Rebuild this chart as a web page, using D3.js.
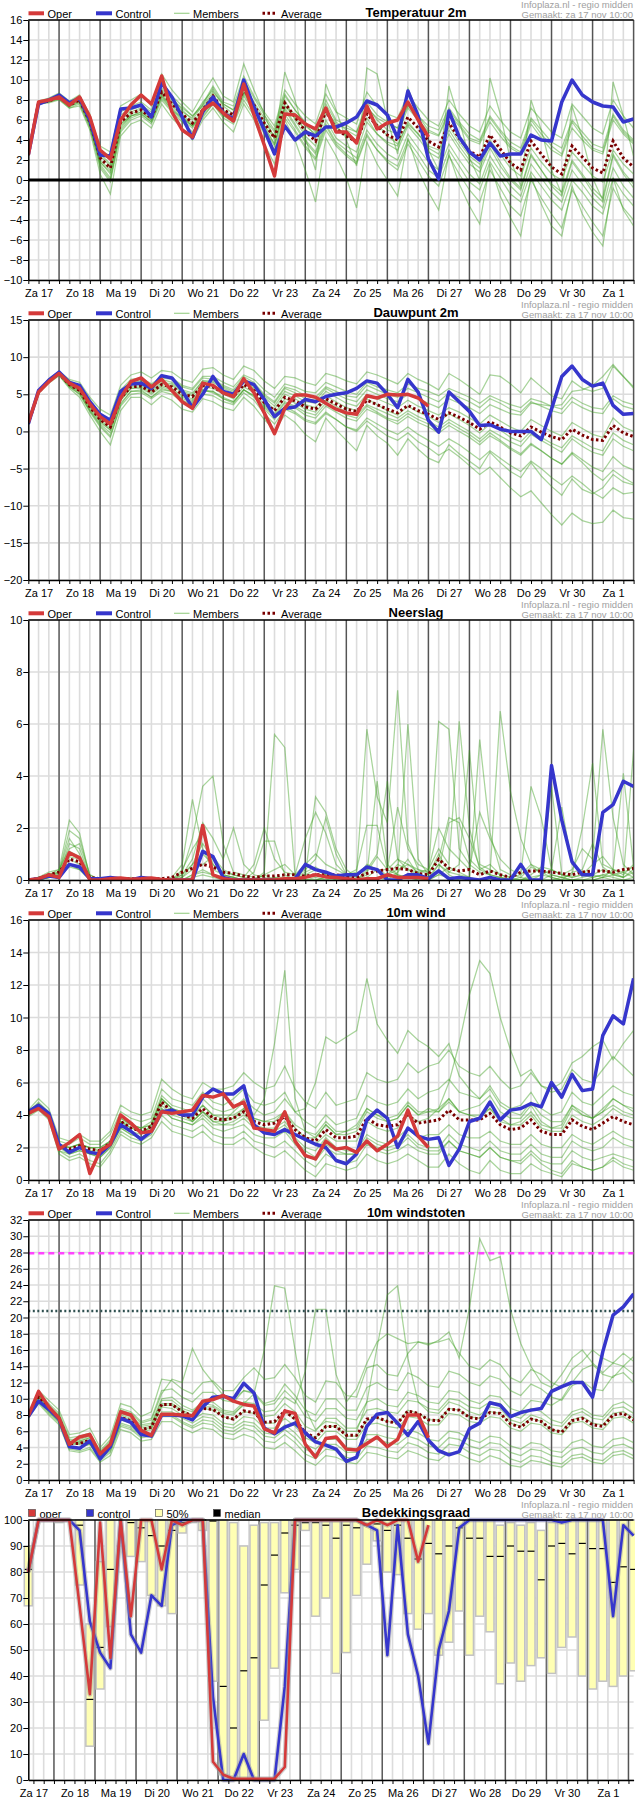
<!DOCTYPE html>
<html>
<head>
<meta charset="utf-8">
<script src="https://cdn.jsdelivr.net/npm/d3@7"></script>
<style>
    body { margin: 0; background: #fff; }
    svg text { font-family: "Liberation Sans", Arial, sans-serif; }
    .credit { font-size: 9.5px; fill: #a0a0a0; text-anchor: end; }
    .title { font-size: 13px; font-weight: bold; text-anchor: middle; fill: #000; }
    .legend-label { font-size: 11px; fill: #000; }
    .axis text { font-size: 11px; fill: #000; }
    .axis path, .axis line { stroke: #000; }
</style>
</head>
<body>
<svg id="chart" width="635" height="1800"></svg>
<script>
const steps = 60;
const dayNames = ["Za 17", "Zo 18", "Ma 19", "Di 20", "Wo 21", "Do 22", "Vr 23", "Za 24", "Zo 25", "Ma 26", "Di 27", "Wo 28", "Do 29", "Vr 30", "Za 1"];

// ---- Temperatuur 2m
const tempOper = [2.5,7.8,8.0,8.3,7.5,8.3,6.3,3.0,2.1,6.0, 7.5,8.5,7.6,10.4,6.8,5.0,4.3,7.0,7.7,6.7, 5.9,9.6,6.5,3.5,0.4,6.6,6.5,5.6,5.1,7.2, 4.8,4.8,3.7,7.4,5.1,5.7,6.0,7.8,6.0,4.3];
const tempCtrl = [2.5,7.6,8.0,8.5,7.7,8.2,6.0,2.5,2.4,7.1, 7.2,7.5,6.3,9.7,8.3,6.3,4.2,6.8,8.3,6.7, 6.1,10.0,7.3,5.0,2.6,5.4,4.0,4.8,4.4,5.3, 5.3,5.7,6.3,7.9,7.5,6.5,4.2,8.9,6.4,2.1, 0.1,6.9,4.3,2.8,2.0,3.7,2.4,2.6,2.6,4.5, 4.0,3.9,7.8,10.0,8.5,7.8,7.4,7.3,5.8,6.1];
const tempAvg = [2.5,7.7,7.9,8.3,7.5,8.0,5.8,2.2,1.2,5.8, 6.7,7.0,6.2,8.8,7.6,6.6,5.7,7.0,8.4,7.0, 6.5,9.1,7.5,5.7,4.2,7.7,6.3,4.9,3.9,6.9, 5.1,4.4,3.8,6.6,5.4,4.5,4.0,6.3,5.2,3.9, 3.3,5.7,4.2,2.9,2.3,4.5,3.1,1.7,1.0,3.9, 2.6,1.3,0.6,3.4,2.3,1.2,0.7,3.9,2.2,1.3];
const tempMembers = [
    [2.5,7.8,8.1,8.6,7.7,8.3,6.2,2.8,2.0,6.5, 7.2,7.5,6.8,9.6,8.2,7.0,6.0,7.5,9.2,7.6, 7.0,10.0,8.2,6.5,5.0,8.6,7.0,5.8,4.8,8.0, 6.0,5.5,4.8,7.8,6.5,5.8,5.2,7.5,6.4,5.0, 4.5,7.0,5.6,4.2,3.8,6.2,4.8,3.4,2.8,6.0, 4.6,3.4,2.6,5.8,4.4,3.2,2.8,6.4,4.8,3.8],
    [2.4,7.6,7.7,8.0,7.2,7.6,5.2,1.2,-0.2,4.8, 6.0,6.4,5.6,8.0,6.8,5.8,4.8,6.2,7.6,6.2, 5.6,8.0,6.4,4.6,2.8,6.2,4.8,3.2,2.0,5.0, 3.4,2.4,1.6,4.4,3.0,2.0,1.4,4.0,2.6,1.0, 0.2,3.0,1.4,-0.2,-1.0,1.8,0.2,-1.4,-2.2,0.8, -0.6,-2.0,-3.0,0.0,-1.2,-2.6,-3.4,0.2,-1.4,-2.6],
    [2.5,7.7,8.0,8.4,7.4,8.2,6.0,2.4,1.4,6.2, 7.0,7.4,6.4,9.0,7.8,6.8,6.2,7.8,9.0,7.4, 6.6,9.6,7.2,5.2,3.6,7.4,6.6,5.4,4.6,7.6, 5.8,5.0,4.4,7.4,6.0,5.0,4.6,7.2,6.0,4.8, 4.4,6.6,5.4,4.0,3.6,5.8,4.4,3.2,2.6,5.6, 4.2,3.0,2.4,5.2,4.0,3.0,2.6,6.0,4.6,3.6],
    [2.6,7.7,7.9,8.2,7.6,8.0,5.6,1.8,0.6,5.4, 6.4,6.8,6.0,8.6,7.2,6.2,5.4,6.8,8.0,6.6, 6.0,8.6,7.0,5.0,3.4,7.0,5.4,3.8,2.6,5.6, 3.8,3.0,2.2,5.0,3.6,2.6,2.0,4.6,3.2,1.8, 1.0,3.6,2.0,0.6,-0.4,2.4,0.8,-0.6,-1.6,1.6, 0.2,-1.2,-2.2,1.0,-0.4,-1.8,-2.8,1.2,-0.6,-1.8],
    [2.5,7.6,7.8,8.2,7.3,7.8,5.4,1.6,0.2,5.0, 6.2,6.6,5.8,8.4,7.0,6.0,5.2,6.6,7.8,6.4, 5.8,8.4,6.8,4.8,3.0,6.6,5.0,3.4,2.2,5.4, 3.6,2.6,1.8,4.6,3.0,1.8,1.0,3.6,2.0,0.4, -0.6,2.4,0.6,-1.0,-2.2,1.0,-0.8,-2.6,-3.6,0.0, -1.8,-3.4,-4.8,-1.0,-2.6,-4.2,-5.6,-0.8,-2.8,-4.0],
    [2.5,7.8,8.0,8.5,7.8,8.4,6.6,3.0,2.4,6.8, 7.4,7.8,7.0,9.8,8.4,7.4,6.4,7.6,9.4,7.8, 7.4,10.4,8.4,6.8,5.4,9.0,7.6,6.4,5.6,8.6, 6.8,6.2,5.6,8.8,7.4,6.6,6.2,8.6,7.2,6.0, 5.4,8.0,6.6,5.4,4.8,7.4,6.0,4.8,4.2,7.2, 6.0,4.8,4.2,7.6,6.4,5.2,4.6,8.0,6.4,5.2],
    [2.4,7.7,7.9,8.3,7.5,7.9,5.8,2.0,1.0,5.6, 6.6,7.0,6.2,8.8,7.6,6.6,5.6,7.2,8.6,7.0, 6.4,9.2,7.6,5.8,4.4,8.0,6.0,4.4,3.4,6.8, 5.2,4.6,4.0,7.0,5.6,4.4,3.6,5.6,4.6,3.4, 3.0,5.4,3.8,2.4,1.6,4.0,2.6,1.2,0.4,3.2, 1.8,0.6,0.0,2.8,1.6,0.4,-0.2,3.0,1.6,0.6],
    [2.5,7.8,8.0,8.4,7.5,8.1,6.0,2.6,1.6,6.0, 6.8,7.2,6.6,9.2,8.0,7.2,6.4,7.4,8.8,7.6, 7.0,9.4,7.8,6.2,4.8,8.4,7.0,5.6,4.4,7.2, 5.4,4.4,3.8,6.2,4.6,3.6,3.0,5.4,4.2,2.8, 2.2,4.6,3.0,1.6,0.8,3.2,1.4,0.0,-1.0,2.4, 1.0,-0.4,-1.2,2.0,0.6,-0.8,-1.8,2.6,0.8,-0.4],
    [2.5,7.6,7.8,8.1,7.4,7.7,5.4,1.8,0.8,5.6, 6.4,6.6,5.8,8.2,7.0,6.2,5.4,6.4,7.6,6.4, 6.2,8.8,7.2,5.4,4.2,7.4,6.2,5.0,4.4,7.0, 5.6,5.2,4.8,7.2,6.2,5.6,5.2,7.4,6.4,5.4, 5.0,7.2,5.8,4.6,4.0,6.4,5.0,3.8,3.2,6.2, 5.0,3.8,3.2,6.0,4.8,3.6,3.2,6.6,5.0,4.0],
    [2.5,7.7,7.9,8.2,7.4,7.9,5.6,1.4,0.0,5.2, 6.4,6.8,6.0,8.4,7.4,6.4,5.4,6.8,8.2,6.8, 6.2,8.8,7.2,5.4,3.6,7.2,5.6,4.0,2.8,6.0, 4.2,3.4,2.8,5.8,4.6,3.8,3.4,5.8,4.6,3.2, 2.6,5.0,3.4,2.0,1.2,3.6,1.8,0.2,-0.8,2.6, 1.0,-0.6,-1.6,1.8,0.4,-1.2,-2.2,2.4,0.6,-0.8],
    [2.5,7.9,8.2,8.7,7.9,8.5,6.4,3.4,2.8,7.4, 8.0,8.6,7.4,10.6,9.0,7.8,6.8,8.6,10.2,8.4, 7.8,11.6,9.0,6.6,4.0,10.8,8.0,4.2,1.0,9.6, 7.0,4.0,1.4,11.2,10.6,6.0,2.6,9.2,6.6,3.0, 1.0,9.4,6.0,2.2,0.0,10.2,6.6,2.0,-0.6,8.0, 5.0,1.0,-1.4,7.4,4.2,0.2,-2.0,9.8,6.4,2.4],
    [2.4,7.6,7.8,8.1,7.2,7.4,5.0,0.6,-1.4,4.4, 5.6,6.0,5.2,7.6,6.2,5.2,4.0,6.0,7.2,5.8, 4.8,7.6,6.0,3.6,1.6,6.0,4.0,1.0,-2.2,4.2, 2.4,0.2,-2.8,3.8,1.6,0.0,-1.6,4.2,1.0,-1.2, -3.0,2.6,-0.4,-2.6,-4.4,1.6,-1.6,-3.8,-5.6,0.4, -2.4,-4.6,-5.6,-0.6,-3.4,-5.2,-6.6,0.2,-3.0,-4.6]
];

// ---- Dauwpunt 2m
const dewOper = [1.2,5.3,6.7,7.8,6.5,5.8,3.7,2.0,1.0,4.5, 6.7,7.2,6.0,7.0,5.5,4.0,3.1,6.5,6.2,5.2, 4.7,7.1,5.2,2.5,-0.3,3.1,4.9,4.9,4.6,3.8, 3.0,2.5,2.3,4.8,4.5,5.0,4.9,5.0,4.5,3.4];
const dewCtrl = [1.0,5.5,6.9,8.0,6.6,6.2,4.0,2.3,1.5,5.4, 6.4,6.5,5.8,7.5,7.2,5.5,3.2,5.0,7.4,5.4, 5.0,6.8,6.3,4.3,2.0,3.1,3.3,4.3,4.0,4.7, 5.0,5.2,5.8,6.8,6.5,5.0,3.2,7.0,5.3,1.5, -0.1,5.3,4.0,2.7,0.8,0.9,0.3,0.0,0.0,0.0, -1.1,3.0,7.4,8.8,7.0,6.1,6.5,3.5,2.3,2.4];
const dewAvg = [1.1,5.3,6.8,7.8,6.3,5.5,3.3,1.6,0.6,4.5, 6.0,6.1,5.3,6.3,6.0,5.0,4.7,6.2,6.0,5.2, 4.7,6.3,5.5,3.9,2.8,4.6,4.1,3.3,3.0,4.4, 3.7,3.0,2.7,4.2,3.6,3.0,2.5,3.5,2.8,2.3, 1.6,2.5,1.9,1.2,0.3,1.3,0.6,-0.2,-0.6,0.6, -0.1,-0.7,-1.1,0.3,-0.5,-1.1,-1.2,0.8,-0.2,-0.7];
const dewMembers = [
    [1.1,5.4,7.0,8.0,6.8,6.2,4.0,2.4,1.6,5.6, 7.0,7.2,6.4,7.4,7.2,6.2,5.8,7.4,7.4,6.6, 6.0,7.6,7.0,5.6,4.6,6.4,6.0,5.4,5.2,6.6, 6.0,5.4,5.0,6.6,6.0,5.6,5.2,6.4,5.8,5.4, 4.8,5.8,5.2,4.6,3.8,4.8,4.2,3.6,3.2,4.4, 4.0,3.4,3.0,4.6,3.8,3.2,3.0,4.8,4.0,3.6],
    [1.0,5.2,6.6,7.6,6.0,5.0,2.8,0.8,-0.6,3.4, 5.0,5.2,4.4,5.4,5.0,4.0,3.6,5.0,4.8,4.0, 3.6,5.2,4.2,2.4,1.0,3.0,2.4,1.4,1.0,2.4, 1.6,0.6,0.2,1.8,1.0,0.2,-0.4,0.6,-0.4,-1.2, -2.0,-1.0,-1.8,-2.8,-3.8,-2.6,-3.6,-4.6,-5.4,-4.0, -5.0,-6.2,-7.2,-6.0,-7.0,-8.2,-9.0,-7.6,-8.4,-8.2],
    [1.2,5.3,6.8,7.8,6.2,5.4,3.0,1.2,0.2,4.2, 5.8,5.8,5.0,6.0,5.6,4.6,4.2,5.6,5.4,4.6, 4.0,5.6,4.6,3.0,1.6,3.4,2.6,1.6,1.2,2.6, 1.6,0.6,0.0,1.4,0.4,-0.6,-1.2,-0.2,-1.4,-2.2, -3.2,-2.4,-3.4,-4.6,-5.8,-4.8,-6.2,-7.6,-8.8,-8.0, -9.6,-11.2,-12.6,-11.0,-12.0,-12.4,-12.2,-10.6,-11.6,-11.8],
    [1.1,5.3,6.8,7.8,6.3,5.6,3.4,1.6,0.4,4.4, 6.0,6.2,5.4,6.4,6.2,5.2,4.8,6.4,6.2,5.4, 4.8,6.6,5.8,4.2,3.0,5.0,4.4,3.6,3.2,4.8, 4.0,3.2,2.8,4.4,3.6,2.8,2.2,3.4,2.6,2.0, 1.2,2.4,1.6,0.8,-0.2,1.0,0.2,-0.8,-1.4,0.0, -0.8,-1.6,-2.2,-0.6,-1.4,-2.2,-2.6,-0.2,-1.2,-1.8],
    [1.1,5.4,6.9,7.9,6.6,5.8,3.8,2.0,1.0,5.0, 6.6,6.8,6.0,7.0,6.6,5.6,5.2,6.8,6.8,6.0, 5.4,7.0,6.4,4.8,3.8,5.8,5.2,4.4,4.2,5.8, 5.0,4.4,4.0,5.6,5.0,4.4,4.0,5.0,4.4,3.8, 3.2,4.4,3.8,3.2,2.4,3.6,3.0,2.4,2.2,3.8, 3.6,3.4,3.6,5.4,5.6,6.2,7.4,9.0,7.4,6.0],
    [1.0,5.2,6.7,7.7,6.0,5.0,2.6,0.6,-0.8,3.6, 5.4,5.6,4.6,5.8,5.4,4.2,3.8,5.4,5.4,4.4, 3.8,5.6,4.8,3.2,2.0,3.8,3.2,2.2,1.8,3.4, 2.6,1.8,1.4,3.0,2.4,1.6,1.0,2.0,1.2,0.6, -0.2,0.8,0.0,-0.8,-1.8,-0.6,-1.4,-2.4,-3.2,-1.8, -2.6,-3.6,-4.4,-2.8,-3.8,-4.8,-5.4,-3.4,-4.6,-5.2],
    [1.1,5.3,6.8,7.8,6.4,5.6,3.4,1.8,0.8,4.8, 6.2,6.4,5.6,6.6,6.4,5.4,5.0,6.8,6.6,5.8, 5.2,6.8,6.0,4.6,3.4,5.4,4.8,4.0,3.8,5.4, 4.6,3.8,3.4,5.0,4.4,3.8,3.2,4.2,3.4,2.8, 2.2,3.2,2.6,1.8,1.0,2.2,1.4,0.6,0.0,1.6, 0.8,0.0,-0.6,1.2,0.4,-0.4,-0.8,1.8,0.6,0.0],
    [1.1,5.2,6.7,7.7,6.1,5.2,2.8,1.0,-0.2,3.8, 5.4,5.4,4.6,5.6,5.4,4.4,4.0,5.6,5.2,4.4, 4.0,5.6,4.8,3.4,2.2,4.0,3.4,2.6,2.2,3.8, 3.0,2.2,1.8,3.4,2.6,1.8,1.4,2.4,1.6,1.0, 0.2,1.2,0.4,-0.4,-1.4,-0.2,-1.2,-2.2,-3.0,-1.6, -2.6,-3.6,-4.4,-3.0,-4.2,-5.6,-6.6,-5.2,-6.2,-7.0],
    [1.1,5.4,6.9,7.9,6.5,5.9,3.8,2.2,1.4,5.2, 6.8,7.0,6.2,7.2,7.0,6.0,5.6,7.2,7.0,6.2, 5.6,7.4,6.6,5.0,4.0,6.0,5.6,4.8,4.6,6.0, 5.4,4.8,4.6,6.2,5.6,5.0,4.6,5.8,5.2,4.6, 4.0,5.2,4.6,4.0,3.2,4.4,3.8,3.0,2.6,4.0, 3.4,2.8,2.4,4.0,3.2,2.6,2.4,4.4,3.4,3.0],
    [1.1,5.3,6.8,7.8,6.2,5.4,3.2,1.4,0.2,4.2, 5.8,6.0,5.2,6.2,5.8,4.8,4.4,6.0,5.8,5.0, 4.4,6.0,5.2,3.6,2.4,4.4,3.8,3.0,2.6,4.2, 3.4,2.6,2.2,3.6,3.0,2.4,1.8,2.8,2.0,1.4, 0.6,1.6,0.8,0.0,-1.0,0.2,-0.6,-1.4,-2.0,-0.4, -1.2,-2.0,-2.8,-1.0,-2.0,-2.8,-3.2,-1.0,-2.0,-2.6],
    [1.1,5.5,7.1,8.1,7.0,6.6,4.6,3.0,2.2,6.2, 7.6,8.0,7.2,8.2,8.0,7.0,6.6,8.4,8.6,7.6, 7.0,8.8,8.2,6.8,5.8,7.4,7.2,6.6,6.2,7.8, 7.4,6.8,6.4,8.0,7.6,7.0,6.4,7.8,7.0,6.4, 5.6,7.8,7.0,6.0,5.0,7.6,7.4,6.4,5.2,7.2, 6.0,4.8,4.4,6.8,5.8,5.4,5.8,8.8,7.4,5.8],
    [1.0,5.1,6.5,7.5,5.8,4.6,2.2,0.0,-1.8,2.8, 4.6,4.6,3.6,4.8,4.2,3.0,2.6,4.4,4.0,3.2, 2.8,4.6,3.4,1.6,0.2,2.2,1.2,-0.4,-1.4,1.8, 0.2,-1.2,-2.6,0.8,-0.6,-1.6,-3.2,-1.0,-2.4,-3.6, -4.2,-1.8,-3.0,-4.0,-5.0,-2.8,-4.2,-5.4,-6.2,-4.2, -6.0,-7.4,-8.6,-6.4,-7.8,-8.4,-7.6,-5.8,-6.8,-7.2]
];

// ---- Neerslag
const rainOper = [0,0.05,0.2,0.1,1.05,0.85,0,0,0.05,0.08, 0.03,0.05,0.08,0.02,0,0,0,2.1,0.2,0.05, 0,0,0,0,0,0.05,0.05,0.1,0.2,0.12, 0.1,0.05,0,0.05,0.05,0.2,0.1,0.1,0.1,0.05];
const rainCtrl = [0,0.05,0.15,0.1,0.6,0.5,0.05,0.05,0.1,0.05, 0,0.1,0.05,0,0,0,0,1.1,0.9,0.1, 0,0,0,0,0,0,0.05,0.6,0.4,0.3, 0.15,0.2,0.2,0.5,0.4,0,0,0.2,0.2,0.05, 0.35,0.05,0.1,0.05,0,0.1,0,0,0.6,0, 0,4.4,2.3,0.7,0.2,0.2,2.6,2.9,3.8,3.6];
const rainAvg = [0,0.05,0.2,0.3,0.8,0.7,0.1,0.05,0.05,0.05, 0.05,0.05,0.05,0.05,0.1,0.3,0.45,0.6,0.5,0.3, 0.25,0.15,0.1,0.15,0.15,0.2,0.2,0.15,0.2,0.2, 0.2,0.15,0.1,0.25,0.35,0.4,0.45,0.4,0.25,0.2, 0.8,0.45,0.35,0.4,0.2,0.35,0.2,0.1,0.3,0.35, 0.35,0.3,0.25,0.2,0.3,0.35,0.35,0.3,0.4,0.45];
const rainMembers = [
    [0,0.1,0.3,0.4,2.3,1.8,0.1,0,0,0, 0,0,0,0,0.1,0.6,3.1,1.2,0.4,0.2, 0.1,0,0,0.2,0,0,0.1,0.3,0.5,0.2, 0,0,0,0.3,0.9,0.4,0.2,0.1,0,0, 0.6,0.2,0,0,0,0.1,0,0,0.1,0.5, 0.3,0.1,0,0,0.1,0.2,0.4,0.2,0.1,0.3],
    [0,0,0.1,0.2,1.1,0.9,0.1,0,0,0, 0,0,0,0,0,0.1,0.4,0.6,0.9,0.4, 0.2,0.1,0,0.3,5.6,5.1,0.2,0,0,0.1, 0.2,0,0,0,0.1,0,0.3,0.8,0.2,0, 0.2,0.5,0.3,0.1,0,0,0.1,0,0,0, 0,0.2,0.1,0,0,0,0.1,0.2,0.3,0.1],
    [0,0.1,0.2,0.3,1.9,1.6,0.2,0,0,0, 0,0,0,0,0,0.3,1.6,3.6,4.0,1.4, 0.3,0.2,0.1,0,0.1,0,0,0.2,3.2,2.6, 1.2,0.4,0.1,0,0,0.2,0.6,0.4,0.3,0, 0.4,2.2,2.4,1.6,0.5,0.2,0.1,0,0,0.2, 0.5,0.4,0.2,0.1,0.2,0.6,0.9,0.4,0.2,0.6],
    [0,0,0.1,0.1,0.6,0.4,0,0,0,0, 0.1,0,0,0,0,0,0.2,0.4,0.2,0.1, 0,0,0.3,1.5,1.5,0.2,0,0,0.1,0, 0.1,0.2,0.3,5.8,3.2,2.2,7.3,1.4,0.4,0.2, 6.1,5.8,1.2,0.6,0.3,0.2,0.1,0,0,0, 0,0,0.1,0,0,0.1,0.2,0.1,0,0.1],
    [0,0,0.1,0.2,1.4,1.2,0.1,0,0,0, 0,0,0,0,0,0.2,0.8,2.2,1.6,0.8, 2.0,0.6,0.2,0.1,0,0,0.1,0.4,0.8,2.4, 1.0,0.2,0.1,0.6,0.4,0.2,0.4,0.6,0.3,0.4, 1.2,0.6,6.1,2.0,0.4,0.2,6.5,3.4,1.6,0.6, 0.2,0.1,0,0.3,0.4,1.4,0.5,0.2,0.1,0.4],
    [0,0.1,0.2,0.2,0.8,0.6,0,0,0,0, 0,0,0,0,0,0,0.2,0.3,0.2,0.1, 0,0,0,0,0,0,0,0,0,0.1, 0,0,0,0.2,3.8,0.6,0.2,6.0,0.8,0.2, 1.0,0.3,0.2,0.1,5.4,1.8,0.4,0.2,0.1,0, 0.2,3.6,0.2,0.1,0.2,0.1,0.2,0.3,0.1,5.0],
    [0,0,0.1,0.3,1.6,1.0,0.1,0,0,0, 0,0,0,0,0,0.4,1.2,1.8,0.6,0.2, 0.1,0,0,0.2,0.4,0.6,0.2,1.6,2.6,1.8, 0.6,0.2,0,0.4,1.0,3.8,0.8,0.6,0.4,0.3, 0.8,2.4,2.2,0.8,0.4,0.6,0.2,0.1,0.2,0.6, 0.4,0.2,0.1,0.2,2.0,4.5,0.6,0.4,0.3,0.5],
    [0,0.1,0.2,0.3,0.9,0.8,0.1,0,0,0, 0,0,0,0,0,0.2,0.6,1.4,0.8,0.2, 0.1,0,0,0,0.1,0.1,0.1,0.2,0.4,0.2, 0.1,0.1,0,0.1,0.4,0.4,0.8,0.4,0.2,0.1, 0.6,0.3,0.6,5.0,0.6,0.4,0.2,0.1,0,0.1, 0.2,0.4,2.8,0.6,0.3,0.2,0.1,0.4,4.1,0.5],
    [0,0,0.1,0.2,0.5,0.4,0,0,0,0, 0,0,0,0,0,0,0.1,0.2,0.1,0, 0,0,0,0,0,0,0,0,0,0, 0,0,0,0,0.1,0.1,0.2,0.1,0,0, 0.2,0.1,0,0,0,0,0,0,0,0, 0,0,0,0,0,0,0.1,0,0,0],
    [0,0.1,0.2,0.4,1.2,1.4,0.2,0,0,0, 0,0,0,0,0,0.1,0.6,1.0,0.6,0.3, 0.2,0.1,0.6,2.0,0.8,0.3,0.2,0.6,1.0,0.6, 0.4,0.2,0.4,2.1,2.1,0.4,2.8,1.2,0.6,0.4, 2.0,1.2,0.8,0.4,2.6,1.6,0.8,0.4,0.2,3.6, 2.4,0.4,0.2,0.4,1.2,0.8,5.8,2.4,0.6,0.2]
];

// ---- 10m wind
const windOper = [4.1,4.4,3.9,1.9,2.3,2.8,0.4,1.8,2.2,4.0, 3.5,2.9,3.0,4.2,4.1,4.2,4.3,5.2,5.1,5.3, 4.5,4.8,3.2,3.1,3.0,4.2,2.4,1.5,1.3,2.4, 1.9,2.0,1.7,2.4,1.8,2.2,2.7,4.3,2.7,2.0];
const windCtrl = [4.2,4.6,4.1,2.2,1.7,2.0,1.7,1.6,2.2,3.4, 3.0,2.5,3.0,4.2,4.3,4.0,4.0,5.1,5.6,5.3, 5.3,5.8,3.4,2.9,2.8,3.1,2.8,2.5,2.2,2.0, 1.2,1.0,1.6,3.7,4.3,3.8,2.0,3.2,2.7,2.5, 2.6,0.9,1.9,3.6,3.8,4.8,3.7,4.3,4.4,4.7, 4.5,6.0,5.1,6.5,5.5,5.6,8.9,10.1,9.6,12.4];
const windAvg = [4.1,4.6,4.0,2.1,1.9,2.1,1.9,1.8,2.3,3.6, 3.2,3.0,3.3,4.8,4.2,4.0,3.8,4.4,3.8,3.7, 3.8,4.2,3.6,3.4,3.5,3.9,3.1,2.6,2.4,3.1, 2.6,2.6,2.7,3.8,3.4,3.3,3.4,4.0,3.5,3.6, 3.7,4.3,3.7,3.7,3.7,4.1,3.4,3.1,3.2,3.7, 3.0,2.8,2.8,3.7,3.3,3.1,3.5,3.9,3.6,3.4];
const windMembers = [
    [4.2,4.8,4.2,2.4,2.2,2.6,2.2,2.2,2.8,4.2, 3.8,3.6,3.8,5.6,5.0,4.8,4.6,5.4,4.8,4.6, 5.0,5.6,4.8,4.6,4.8,5.4,4.2,3.6,3.2,4.0, 3.4,3.6,3.8,5.2,4.8,4.6,4.8,5.6,5.0,5.4, 5.6,6.2,5.4,5.2,5.0,5.8,4.8,4.4,4.6,5.4, 4.4,4.0,4.2,5.4,4.8,4.6,5.2,5.8,5.4,5.2],
    [4.0,4.4,3.8,1.8,1.4,1.6,1.2,1.0,1.8,3.0, 2.6,2.4,2.8,4.0,3.4,3.2,3.0,3.4,2.8,2.6, 2.6,3.0,2.4,2.2,2.0,2.4,1.8,1.2,0.8,1.6, 1.2,1.0,1.2,2.2,1.8,1.6,1.8,2.2,1.8,1.6, 1.6,2.4,1.8,1.6,1.4,2.0,1.4,1.2,1.2,1.8, 1.2,1.0,1.0,1.8,1.4,1.2,1.4,1.6,1.4,1.2],
    [4.1,4.6,4.0,2.0,1.8,2.0,1.6,1.6,2.2,3.4, 3.0,2.8,3.4,5.0,4.4,4.2,3.6,4.2,3.8,3.6, 4.2,4.8,4.0,5.0,8.4,12.9,5.0,3.0,2.6,3.4, 2.8,3.0,3.4,4.4,4.0,3.6,3.8,4.6,4.0,4.2, 4.4,5.0,4.2,4.0,3.8,4.4,3.6,3.4,3.4,4.0, 3.2,3.0,3.0,4.0,3.6,3.4,3.8,4.4,4.0,3.8],
    [4.2,4.7,4.1,2.2,2.0,2.2,2.0,2.0,2.4,3.8, 3.4,3.2,3.6,5.2,4.6,4.4,4.2,5.0,4.4,4.2, 4.4,5.0,4.4,4.0,4.2,5.0,4.2,4.4,6.0,8.8, 8.4,8.8,9.2,12.4,9.6,8.6,7.8,9.2,8.6,8.2, 7.6,8.4,6.4,5.6,5.0,5.6,4.6,4.2,4.0,4.8, 4.0,3.6,3.6,4.6,4.2,3.8,4.2,5.0,4.6,4.4],
    [4.1,4.5,3.9,2.0,1.8,2.0,1.8,1.6,2.2,3.6, 3.2,3.0,3.2,4.6,4.0,3.8,3.6,4.2,3.6,3.4, 3.6,4.0,3.4,3.2,3.2,3.6,2.8,2.4,2.2,2.8, 2.4,2.4,2.4,3.6,3.2,3.0,3.2,4.0,3.6,3.8, 4.4,6.0,8.4,11.4,13.5,12.7,10.0,8.0,6.4,6.8, 5.8,5.6,6.0,7.2,7.6,8.2,8.6,7.4,8.4,9.2],
    [4.0,4.5,3.9,2.0,1.6,1.8,1.6,1.4,2.0,3.2, 2.8,2.6,3.0,4.4,3.8,3.6,3.4,3.8,3.2,3.0, 3.2,3.4,2.8,2.6,2.6,3.0,2.2,1.6,1.2,2.0, 1.6,1.6,1.6,2.6,2.2,2.0,2.2,2.8,2.2,2.0, 2.0,2.8,2.2,2.0,1.8,2.4,1.8,1.6,1.6,2.2, 1.6,1.4,1.4,2.4,2.0,1.8,2.0,2.6,2.2,2.0],
    [4.1,4.6,4.0,2.2,2.0,2.2,2.0,2.0,2.4,3.8, 3.4,3.2,3.4,5.0,4.4,4.0,3.8,4.6,4.0,3.8, 3.8,4.4,3.8,3.6,3.6,4.2,3.2,2.6,2.6,3.4, 2.8,2.8,3.0,4.2,3.8,3.6,3.8,4.6,4.0,4.4, 4.2,5.0,4.2,4.4,4.6,5.2,4.2,3.8,3.8,4.6, 3.6,3.2,3.4,4.6,4.0,3.8,4.4,5.0,4.6,4.2],
    [4.1,4.6,4.0,2.0,1.8,2.0,1.8,1.8,2.2,3.6, 3.2,3.0,3.2,4.8,4.2,4.0,3.6,4.2,3.6,3.6, 3.8,4.2,3.4,3.0,3.0,3.4,2.6,2.0,1.8,2.6, 2.0,1.8,1.8,2.8,2.4,2.2,2.6,3.2,2.6,2.8, 2.8,3.4,2.8,2.6,2.6,3.0,2.4,2.2,2.2,2.8, 2.2,2.0,2.0,2.8,2.4,2.2,2.6,3.0,2.6,2.4],
    [4.2,4.7,4.1,2.2,2.0,2.2,2.0,1.8,2.4,3.6, 3.4,3.2,3.4,5.0,4.4,4.2,4.0,4.6,4.0,4.0, 4.0,4.4,3.8,3.6,3.8,4.2,3.4,3.0,2.8,3.6, 3.0,3.0,3.2,4.4,4.0,3.8,4.0,4.8,4.2,4.2, 4.2,4.8,4.2,4.0,4.0,4.4,3.8,3.4,3.6,4.2, 3.4,3.2,3.2,4.4,4.0,3.8,4.2,4.6,4.2,4.0],
    [4.0,4.4,3.8,1.8,1.6,1.8,1.6,1.4,2.0,3.2, 2.8,2.6,3.0,4.4,3.8,3.6,3.4,4.0,3.4,3.4, 3.4,3.8,3.2,3.0,2.8,3.2,2.4,1.8,1.4,2.2, 1.8,1.6,1.6,2.4,2.0,1.8,2.0,2.6,2.0,1.8, 1.8,2.4,1.8,1.6,1.4,2.0,1.4,1.2,1.0,1.6, 1.0,0.6,0.4,1.2,0.8,0.6,0.8,1.4,1.0,0.8],
    [4.3,5.0,4.4,2.6,2.4,2.8,2.4,2.4,3.0,4.6, 4.2,4.0,4.2,6.2,5.6,5.2,5.0,6.0,5.6,5.6, 5.8,6.6,6.0,5.6,5.8,7.0,5.6,4.8,4.4,5.4, 4.6,4.8,5.0,6.6,6.2,6.0,6.2,7.2,6.6,7.0, 7.2,8.0,7.0,6.6,6.4,7.0,6.2,5.6,5.8,6.6, 5.8,5.4,5.6,6.8,6.2,6.0,6.8,7.6,7.0,6.4],
    [3.9,4.3,3.7,1.6,1.2,1.4,1.0,0.8,1.6,2.8, 2.4,2.2,2.6,3.6,3.0,2.8,2.6,3.0,2.4,2.2, 2.2,2.6,2.0,1.6,1.4,1.8,1.2,0.6,0.2,1.0, 0.8,0.6,0.8,1.6,1.2,1.0,1.2,1.6,1.2,0.8, 0.8,1.6,1.0,0.6,0.4,1.2,0.6,0.4,0.4,1.0, 0.6,0.4,0.2,1.0,0.8,0.6,0.8,1.2,0.8,0.6]
];

// ---- 10m windstoten
const gustOper = [7.9,10.9,9.0,7.6,4.4,5.3,5.6,3.2,4.4,8.4, 8.0,6.1,5.5,8.1,8.1,8.0,7.9,9.7,9.9,10.4, 9.7,9.3,9.1,6.3,5.8,8.5,8.2,4.4,2.8,5.1, 5.3,3.8,3.7,4.5,5.3,4.1,5.0,8.0,8.0,5.2];
const gustCtrl = [7.8,9.7,8.7,7.5,4.1,3.9,4.8,2.6,4.1,7.6, 7.1,5.6,5.4,8.0,8.0,7.9,7.4,9.0,10.2,10.3, 10.0,11.9,10.7,6.4,5.7,6.5,7.0,5.8,4.7,4.3, 3.8,2.3,2.8,6.6,8.1,8.3,7.0,5.5,7.2,4.9, 3.6,3.1,3.5,6.3,7.0,9.5,9.2,7.8,8.3,8.6, 8.8,10.9,11.5,12.0,12.0,10.2,15.8,20.3,21.3,22.9];
const gustAvg = [7.8,10.2,8.8,7.6,4.5,4.5,4.9,3.0,4.2,7.7, 7.3,6.2,6.5,9.3,9.3,8.4,7.9,8.8,8.7,7.8, 7.5,8.5,8.3,7.1,7.2,8.5,7.5,5.8,5.2,6.6, 6.6,5.5,5.5,7.5,7.7,7.2,7.0,8.5,8.2,7.4, 7.3,8.7,8.6,7.7,7.5,8.3,8.2,6.9,6.5,7.5, 7.2,6.2,5.9,7.3,7.6,6.8,6.6,8.0,8.2,7.4];
const gustMembers = [
    [8.0,10.6,9.4,8.2,5.2,5.4,5.8,3.6,5.0,8.8, 8.4,7.2,7.6,11.0,11.2,10.2,9.6,10.8,10.8,9.8, 9.6,11.0,10.8,9.4,9.8,11.8,10.4,8.6,8.0,10.0, 10.0,8.6,8.6,11.4,12.0,11.2,11.0,13.2,12.6,11.6, 11.4,13.4,13.0,12.0,11.6,12.8,12.4,11.0,10.4,11.8, 11.2,10.2,9.8,11.6,12.2,11.2,11.0,12.8,13.2,12.0],
    [7.6,9.6,8.2,7.0,3.8,3.6,4.0,2.4,3.4,6.6, 6.2,5.2,5.4,7.8,7.8,7.0,6.4,7.0,6.8,5.8, 5.6,6.4,6.0,4.8,4.6,5.6,4.6,3.2,2.6,3.8, 3.6,2.8,2.6,4.2,4.0,3.6,3.4,4.6,4.2,3.4, 3.2,4.4,4.2,3.4,3.0,3.8,3.6,2.6,2.2,3.0, 2.8,2.2,2.0,3.0,3.2,2.6,2.4,3.4,3.6,3.0],
    [7.8,10.2,8.8,7.6,4.6,4.6,5.0,3.0,4.2,7.8, 7.4,6.4,6.6,9.4,9.4,8.6,8.0,9.0,9.0,8.2, 8.0,9.4,10.6,16.0,23.9,23.6,16.0,8.8,6.2,7.2, 7.0,6.0,6.0,9.6,16.4,22.8,23.9,15.0,9.6,8.4, 8.2,9.6,9.2,8.4,8.0,9.0,8.8,7.4,7.0,8.0, 7.6,6.8,6.6,8.0,8.4,7.6,7.4,8.8,9.0,8.2],
    [7.9,10.4,9.0,7.8,4.8,4.8,5.2,3.2,4.6,8.2, 7.8,6.8,7.0,10.0,10.2,9.2,8.6,9.6,9.6,8.6, 8.4,9.6,9.4,8.4,8.6,10.2,9.4,13.4,21.0,21.0, 13.0,9.6,11.2,14.4,17.0,18.0,17.4,16.8,17.0,16.6, 17.2,18.2,15.0,21.2,29.7,27.0,27.5,21.0,16.8,14.0, 12.0,11.4,13.0,15.0,16.0,14.4,13.2,14.4,14.0,13.0],
    [7.8,10.2,8.8,7.6,4.5,4.5,4.8,2.9,4.2,7.6, 7.2,6.2,6.4,9.2,9.2,8.4,7.8,8.8,8.6,7.8, 7.4,8.4,8.2,7.0,7.0,8.4,7.4,5.8,5.2,6.6, 6.6,5.4,5.4,7.4,7.6,7.2,7.0,8.6,8.2,7.4, 7.4,8.8,8.6,7.8,7.6,8.4,8.2,7.0,6.6,7.6, 7.2,6.2,6.0,7.4,7.8,7.0,6.8,8.2,8.4,7.6],
    [7.7,9.8,8.4,7.2,4.2,4.0,4.4,2.6,3.8,7.0, 6.6,5.6,5.8,8.4,8.4,7.6,7.0,7.8,7.6,6.6, 6.4,7.2,7.0,5.8,5.6,6.8,5.8,4.4,3.8,5.0, 5.0,4.0,3.8,5.6,5.6,5.2,5.0,6.2,5.8,5.0, 4.8,6.0,5.8,5.0,4.6,5.4,5.2,4.2,3.8,4.6, 4.4,3.6,3.4,4.6,5.0,4.2,4.0,5.0,5.2,4.6],
    [7.9,10.4,9.2,8.0,5.0,5.0,5.4,3.4,4.8,8.6, 8.2,7.0,7.4,10.6,12.4,12.0,16.2,13.6,12.0,10.4, 10.0,11.0,10.6,9.2,9.4,11.0,9.8,7.8,7.2,8.8, 8.8,7.6,7.4,9.6,10.0,9.2,9.0,10.8,10.4,9.6, 9.4,11.0,10.8,9.8,9.4,10.4,10.2,8.8,8.4,9.8, 9.6,9.2,10.0,12.0,13.6,14.2,13.0,12.6,14.0,15.2],
    [7.8,10.0,8.6,7.4,4.4,4.4,4.6,2.8,4.0,7.4, 7.0,6.0,6.2,9.0,8.8,8.0,7.4,8.2,8.0,7.0, 6.8,7.8,7.6,6.4,6.4,7.6,6.6,5.2,4.6,6.0, 6.0,5.0,5.0,6.8,7.0,6.6,6.4,7.8,7.6,6.8, 6.8,8.2,8.0,7.2,7.0,7.8,7.6,6.4,6.0,7.0, 6.8,5.8,5.6,7.0,7.2,6.4,6.2,7.6,7.8,7.0],
    [7.9,10.4,9.0,7.8,4.8,4.8,5.2,3.2,4.4,8.0, 7.6,6.6,6.8,9.8,9.8,8.8,8.4,9.4,9.2,8.4, 8.2,9.2,9.0,7.8,8.0,9.4,8.4,6.6,6.0,7.6, 7.6,6.4,6.4,8.6,8.8,8.4,8.2,9.8,9.6,8.8, 8.6,10.0,9.8,9.0,8.8,9.6,9.4,8.0,7.6,8.8, 8.4,7.4,7.0,8.4,8.8,8.0,7.8,9.2,9.6,8.8],
    [7.7,9.8,8.4,7.2,4.0,4.0,4.4,2.6,3.6,6.8, 6.4,5.4,5.6,8.0,8.0,7.2,6.6,7.4,7.2,6.2, 6.0,6.8,6.6,5.4,5.2,6.2,5.2,3.8,3.2,4.4, 4.4,3.4,3.4,5.0,5.0,4.6,4.4,5.4,5.0,4.2, 4.0,5.2,5.0,4.2,3.8,4.6,4.4,3.4,3.0,3.8, 3.6,3.0,2.8,3.8,4.0,3.4,3.2,4.2,4.4,3.8],
    [8.1,11.0,9.8,8.6,5.6,5.8,6.4,4.0,5.4,9.4, 9.0,7.8,8.4,12.4,12.2,11.2,10.6,12.0,12.2,11.0, 11.0,12.6,13.8,12.4,12.6,14.2,12.6,10.4,9.6,12.2, 12.0,10.4,10.2,13.8,14.2,13.0,12.8,15.6,17.0,16.8, 17.0,17.4,15.6,14.0,13.6,14.8,14.2,12.6,12.0,13.6, 13.0,12.0,11.4,13.6,14.6,16.0,15.0,14.4,15.6,14.6],
    [7.6,9.4,8.0,6.8,3.6,3.4,3.8,2.2,3.0,6.2, 5.8,4.8,5.0,7.2,7.2,6.4,5.8,6.4,6.2,5.2, 5.0,5.6,5.2,4.0,3.8,4.6,3.6,2.4,1.8,3.0, 2.8,2.2,2.0,3.4,3.2,2.8,2.6,3.6,3.2,2.6, 2.4,3.4,3.2,2.6,2.2,3.0,2.6,1.8,1.6,2.4, 2.2,1.8,1.6,2.6,2.8,2.2,2.0,3.0,3.2,2.6]
];
const gustWarnOrange = 27.9;
const gustWarnYellow = 20.8;

// ---- Bedekkingsgraad (%)
const cloudOper = [80,100,100,100,100,67,33,99,47,100, 63,100,100,81,100,98,100,100,7,2, 0.5,0.5,0.5,0.5,0.5,5,100,100,100,100, 100,100,100,98,100,98,100,100,84,98];
const cloudCtrl = [80,100,100,100,100,96,61,49,43,100, 56,49,71,67,98,100,100,100,32,0, 0,10,0,0,0,36,100,100,100,100, 100,100,100,98,96,48,98,56,40,14, 50,65,97,100,100,100,100,100,100,100, 100,100,99,100,100,100,100,63,98,94];
const cloudHigh = [90,100,100,100,100,100,60,84,100,100, 100,100,100,100,100,100,100,100,100,100, 99,90,98,99,99,100,100,99,100,100, 100,100,100,100,100,100,100,100,100,100, 100,100,100,100,100,100,98,99,98,99, 96,99,100,100,100,100,100,100,100,100];
const cloudLow = [67,100,100,99,100,75,13,35,59,100, 86,84,71,67,64,95,99,96,38,2, 0.5,0.5,0.5,23,43,72,81,96,63,70, 41,49,71,83,92,80,79,64,58,64, 48,53,65,48,63,57,37,45,38,44, 47,41,51,55,40,35,38,36,40,42];
const cloudMedian = [81,100,100,100,100,98,31,51,81,100, 99,97,94,90,96,99,100,100,99.6,36, 20,42,47,75,86.5,95,98,99,99,98, 93,98,97,98,98.5,96,98,93,85,91, 87,90,97,93,93,86,86,90,88,88, 77,90,91,87,91,89,89,76,82,81];

const OPER = "#d43a3a";
const CTRL = "#3636cc";
const AVG = "#7a0000";
const MEMBER = "#3f9f22";

const lineLegend = [
    {label: "Oper", x: 28.5, w: 15.5, color: OPER, width: 4},
    {label: "Control", x: 96, w: 16, color: CTRL, width: 4},
    {label: "Members", x: 174, w: 15.5, color: "#9fd28e", width: 1.2},
    {label: "Average", x: 262.5, w: 15, color: AVG, width: 3, dash: "2.5,2.5"}
];
const boxLegend = [
    {label: "oper", x: 28.5, color: OPER},
    {label: "control", x: 86.5, color: CTRL},
    {label: "50%", x: 155.5, color: "#ffffb4"},
    {label: "median", x: 213.5, color: "#000"}
];

function drawHeader(g, title, legendType) {
    g.append("text").attr("class", "credit").attr("x", 633).attr("y", -12).text("Infoplaza.nl - regio midden");
    g.append("text").attr("class", "credit").attr("x", 633).attr("y", -2.5).text("Gemaakt: za 17 nov 10:00");
    g.append("text").attr("class", "title").attr("x", 416).attr("y", -3.5).text(title);

    const leg = g.append("g").attr("class", "legend");
    if (legendType === "lines") {
        leg.selectAll("line").data(lineLegend).join("line")
            .attr("x1", d => d.x).attr("x2", d => d.x + d.w)
            .attr("y1", -6.7).attr("y2", -6.7)
            .attr("stroke", d => d.color)
            .attr("stroke-width", d => d.width)
            .attr("stroke-dasharray", d => d.dash || null);
        leg.selectAll("text").data(lineLegend).join("text")
            .attr("class", "legend-label")
            .attr("x", d => d.x + d.w + 3.5).attr("y", -2.5)
            .text(d => d.label);
    } else {
        leg.selectAll("rect").data(boxLegend).join("rect")
            .attr("x", d => d.x).attr("y", -10.5)
            .attr("width", 7).attr("height", 7)
            .attr("fill", d => d.color)
            .attr("stroke", "#444").attr("stroke-width", 0.6);
        leg.selectAll("text").data(boxLegend).join("text")
            .attr("class", "legend-label")
            .attr("x", d => d.x + 11).attr("y", -2.5)
            .text(d => d.label);
    }
}

class EnsemblePanel {
    constructor(_config, _data) {
        this.config = {
            parentElement: _config.parentElement,
            id: _config.id,
            top: _config.top,
            title: _config.title,
            yDomain: _config.yDomain,
            yStep: _config.yStep,
            zeroLine: _config.zeroLine || false,
            thresholds: _config.thresholds || [],
            containerHeight: 260,
            left: 28.3,
            right: 633.6
        };
        this.data = _data;
        this.initVis();
    }

    initVis() {
        let vis = this;
        const c = vis.config;
        vis.height = c.containerHeight;

        vis.g = d3.select(c.parentElement).append("g")
            .attr("transform", `translate(0,${c.top})`);

        vis.x = d3.scaleLinear().domain([0, steps - 1]).range([c.left, c.right]);
        vis.y = d3.scaleLinear().domain(c.yDomain).range([vis.height, 0]);
        vis.yTicks = d3.range(c.yDomain[0], c.yDomain[1] + 0.001, c.yStep);

        vis.g.append("clipPath").attr("id", `clip-${c.id}`)
            .append("rect")
            .attr("x", c.left).attr("y", 0)
            .attr("width", c.right - c.left).attr("height", vis.height);

        drawHeader(vis.g, c.title, "lines");
        vis.renderVis();
    }

    renderVis() {
        let vis = this;
        const c = vis.config;

        // grid
        const grid = vis.g.append("g").attr("class", "grid");
        grid.selectAll(".hgrid").data(vis.yTicks).join("line")
            .attr("class", "hgrid")
            .attr("x1", c.left).attr("x2", c.right)
            .attr("y1", d => vis.y(d)).attr("y2", d => vis.y(d))
            .attr("stroke", "#dcdcdc").attr("stroke-width", 1.6);
        grid.selectAll(".vgrid").data(d3.range(1, steps)).join("line")
            .attr("class", "vgrid")
            .attr("x1", d => vis.x(d)).attr("x2", d => vis.x(d))
            .attr("y1", 0).attr("y2", vis.height)
            .attr("stroke", "#dcdcdc").attr("stroke-width", 1.6);
        grid.selectAll(".dayline").data(d3.range(3, steps, 4)).join("line")
            .attr("class", "dayline")
            .attr("x1", d => vis.x(d)).attr("x2", d => vis.x(d))
            .attr("y1", 0).attr("y2", vis.height)
            .attr("stroke", "#555").attr("stroke-width", 1.4);

        const plot = vis.g.append("g").attr("clip-path", `url(#clip-${c.id})`);
        const line = d3.line()
            .defined(d => d != null)
            .x((d, i) => vis.x(i))
            .y(d => vis.y(d));

        plot.selectAll(".member").data(vis.data.members).join("path")
            .attr("class", "member")
            .attr("d", line)
            .attr("fill", "none")
            .attr("stroke", MEMBER)
            .attr("stroke-opacity", 0.45)
            .attr("stroke-width", 1.25);

        if (c.zeroLine) {
            plot.append("line")
                .attr("x1", c.left).attr("x2", c.right)
                .attr("y1", vis.y(0)).attr("y2", vis.y(0))
                .attr("stroke", "#000").attr("stroke-width", 3);
        }

        plot.selectAll(".threshold").data(c.thresholds).join("line")
            .attr("class", "threshold")
            .attr("x1", c.left).attr("x2", c.right)
            .attr("y1", d => vis.y(d.value)).attr("y2", d => vis.y(d.value))
            .attr("stroke", d => d.color)
            .attr("stroke-width", 2.5)
            .attr("stroke-dasharray", d => d.dash);

        plot.append("path").attr("d", line(vis.data.avg))
            .attr("fill", "none").attr("stroke", AVG)
            .attr("stroke-width", 3).attr("stroke-dasharray", "2.5,2.5");
        plot.append("path").attr("d", line(vis.data.ctrl))
            .attr("fill", "none").attr("stroke", CTRL)
            .attr("stroke-width", 3.5).attr("stroke-linejoin", "round");
        plot.append("path").attr("d", line(vis.data.oper))
            .attr("fill", "none").attr("stroke", OPER)
            .attr("stroke-width", 3.5).attr("stroke-linejoin", "round");

        // frame + axes
        vis.g.append("line")
            .attr("x1", c.left).attr("x2", c.right).attr("y1", 0).attr("y2", 0)
            .attr("stroke", "#000").attr("stroke-width", 1.5);

        vis.g.append("g").attr("class", "axis")
            .attr("transform", `translate(${c.left},0)`)
            .call(d3.axisLeft(vis.y).tickValues(vis.yTicks).tickSize(5).tickSizeOuter(0).tickPadding(1))
            .call(g => g.select(".domain").attr("stroke-width", 1.5));

        vis.g.append("g").attr("class", "axis")
            .attr("transform", `translate(0,${vis.height})`)
            .call(d3.axisBottom(vis.x).tickValues(d3.range(0, steps)).tickSize(4).tickSizeOuter(0).tickFormat(""))
            .call(g => g.select(".domain").attr("stroke-width", 1.5));

        vis.g.append("g").attr("class", "axis")
            .attr("transform", `translate(0,${vis.height})`)
            .call(d3.axisBottom(vis.x).tickValues(d3.range(1, steps, 4)).tickSize(0).tickPadding(9)
                .tickFormat((d, k) => dayNames[k]))
            .call(g => g.select(".domain").remove());
    }
}

class CloudPanel {
    constructor(_config, _data) {
        this.config = {
            parentElement: _config.parentElement,
            top: _config.top,
            title: _config.title,
            containerHeight: 260,
            left: 28.3,
            right: 633.6,
            barWidth: 8
        };
        this.data = _data;
        this.initVis();
    }

    initVis() {
        let vis = this;
        const c = vis.config;
        vis.height = c.containerHeight;
        vis.g = d3.select(c.parentElement).append("g")
            .attr("transform", `translate(0,${c.top})`);
        vis.x = d3.scaleLinear().domain([0, steps - 1]).range([c.left, c.right]);
        vis.y = d3.scaleLinear().domain([0, 100]).range([vis.height, 0]);
        vis.yTicks = d3.range(0, 101, 10);
        drawHeader(vis.g, c.title, "boxes");
        vis.renderVis();
    }

    renderVis() {
        let vis = this;
        const c = vis.config;
        const grid = vis.g.append("g").attr("class", "grid");
        grid.selectAll(".hgrid").data(vis.yTicks).join("line")
            .attr("x1", c.left).attr("x2", c.right)
            .attr("y1", d => vis.y(d)).attr("y2", d => vis.y(d))
            .attr("stroke", "#dcdcdc").attr("stroke-width", 1.6);
        grid.selectAll(".vgrid").data(d3.range(0.5, steps, 1)).join("line")
            .attr("class", "vgrid")
            .attr("x1", d => vis.x(d)).attr("x2", d => vis.x(d))
            .attr("y1", 0).attr("y2", vis.height)
            .attr("stroke", "#dcdcdc").attr("stroke-width", 1.6);
        grid.selectAll(".dayline").data(d3.range(2.5, steps, 4)).join("line")
            .attr("class", "dayline")
            .attr("x1", d => vis.x(d)).attr("x2", d => vis.x(d))
            .attr("y1", 0).attr("y2", vis.height)
            .attr("stroke", "#555").attr("stroke-width", 1.4);

        const bars = vis.data.high.map((h, i) => ({i: i, high: h, low: vis.data.low[i], median: vis.data.median[i]}))
            .filter(d => d.high - d.low > 0.3);

        vis.g.selectAll(".bar").data(bars).join("rect")
            .attr("class", "bar")
            .attr("x", d => vis.x(d.i) - c.barWidth / 2)
            .attr("width", c.barWidth)
            .attr("y", d => vis.y(d.high))
            .attr("height", d => vis.y(d.low) - vis.y(d.high))
            .attr("fill", "#ffffb4")
            .attr("stroke", "#c2c2c2")
            .attr("stroke-width", 1.5);

        vis.g.selectAll(".median").data(bars).join("line")
            .attr("class", "median")
            .attr("x1", d => vis.x(d.i) - c.barWidth / 2 + 0.5)
            .attr("x2", d => vis.x(d.i) + c.barWidth / 2 - 0.5)
            .attr("y1", d => vis.y(d.median)).attr("y2", d => vis.y(d.median))
            .attr("stroke", "#000").attr("stroke-width", 1.2);

        const line = d3.line().x((d, i) => vis.x(i)).y(d => vis.y(d));
        [[vis.data.ctrl, CTRL], [vis.data.oper, OPER]].forEach(([series, color]) => {
            vis.g.append("path").attr("d", line(series))
                .attr("fill", "none").attr("stroke", "#999")
                .attr("stroke-opacity", 0.45).attr("stroke-width", 5)
                .attr("stroke-linejoin", "round");
            vis.g.append("path").attr("d", line(series))
                .attr("fill", "none").attr("stroke", color)
                .attr("stroke-width", 2.6).attr("stroke-linejoin", "round");
        });

        vis.g.append("line")
            .attr("x1", c.left).attr("x2", c.right).attr("y1", 0).attr("y2", 0)
            .attr("stroke", "#000").attr("stroke-width", 1.5);

        vis.g.append("g").attr("class", "axis")
            .attr("transform", `translate(${c.left},0)`)
            .call(d3.axisLeft(vis.y).tickValues(vis.yTicks).tickSize(5).tickSizeOuter(0).tickPadding(1))
            .call(g => g.select(".domain").attr("stroke-width", 1.5));

        vis.g.append("g").attr("class", "axis")
            .attr("transform", `translate(0,${vis.height})`)
            .call(d3.axisBottom(vis.x).tickValues(d3.range(0.5, steps, 1)).tickSize(4).tickSizeOuter(0).tickFormat(""))
            .call(g => g.select(".domain").attr("stroke-width", 1.5));

        vis.g.append("g").attr("class", "axis")
            .attr("transform", `translate(0,${vis.height})`)
            .call(d3.axisBottom(vis.x).tickValues(d3.range(0.5, steps, 4)).tickSize(0).tickPadding(9)
                .tickFormat((d, k) => dayNames[k]))
            .call(g => g.select(".domain").remove());
    }
}

new EnsemblePanel({parentElement: "#chart", id: "temp", top: 20, title: "Temperatuur 2m", yDomain: [-10, 16], yStep: 2, zeroLine: true},
    {oper: tempOper, ctrl: tempCtrl, avg: tempAvg, members: tempMembers});
new EnsemblePanel({parentElement: "#chart", id: "dew", top: 320, title: "Dauwpunt 2m", yDomain: [-20, 15], yStep: 5},
    {oper: dewOper, ctrl: dewCtrl, avg: dewAvg, members: dewMembers});
new EnsemblePanel({parentElement: "#chart", id: "rain", top: 620, title: "Neerslag", yDomain: [0, 10], yStep: 2},
    {oper: rainOper, ctrl: rainCtrl, avg: rainAvg, members: rainMembers});
new EnsemblePanel({parentElement: "#chart", id: "wind", top: 920, title: "10m wind", yDomain: [0, 16], yStep: 2},
    {oper: windOper, ctrl: windCtrl, avg: windAvg, members: windMembers});
new EnsemblePanel({parentElement: "#chart", id: "gust", top: 1220, title: "10m windstoten", yDomain: [0, 32], yStep: 2,
        thresholds: [{value: gustWarnOrange, color: "#ff44ff", dash: "6,4"}, {value: gustWarnYellow, color: "#2f5050", dash: "2,2.5"}]},
    {oper: gustOper, ctrl: gustCtrl, avg: gustAvg, members: gustMembers});
new CloudPanel({parentElement: "#chart", top: 1520, title: "Bedekkingsgraad"},
    {oper: cloudOper, ctrl: cloudCtrl, high: cloudHigh, low: cloudLow, median: cloudMedian});
</script>
</body>
</html>
